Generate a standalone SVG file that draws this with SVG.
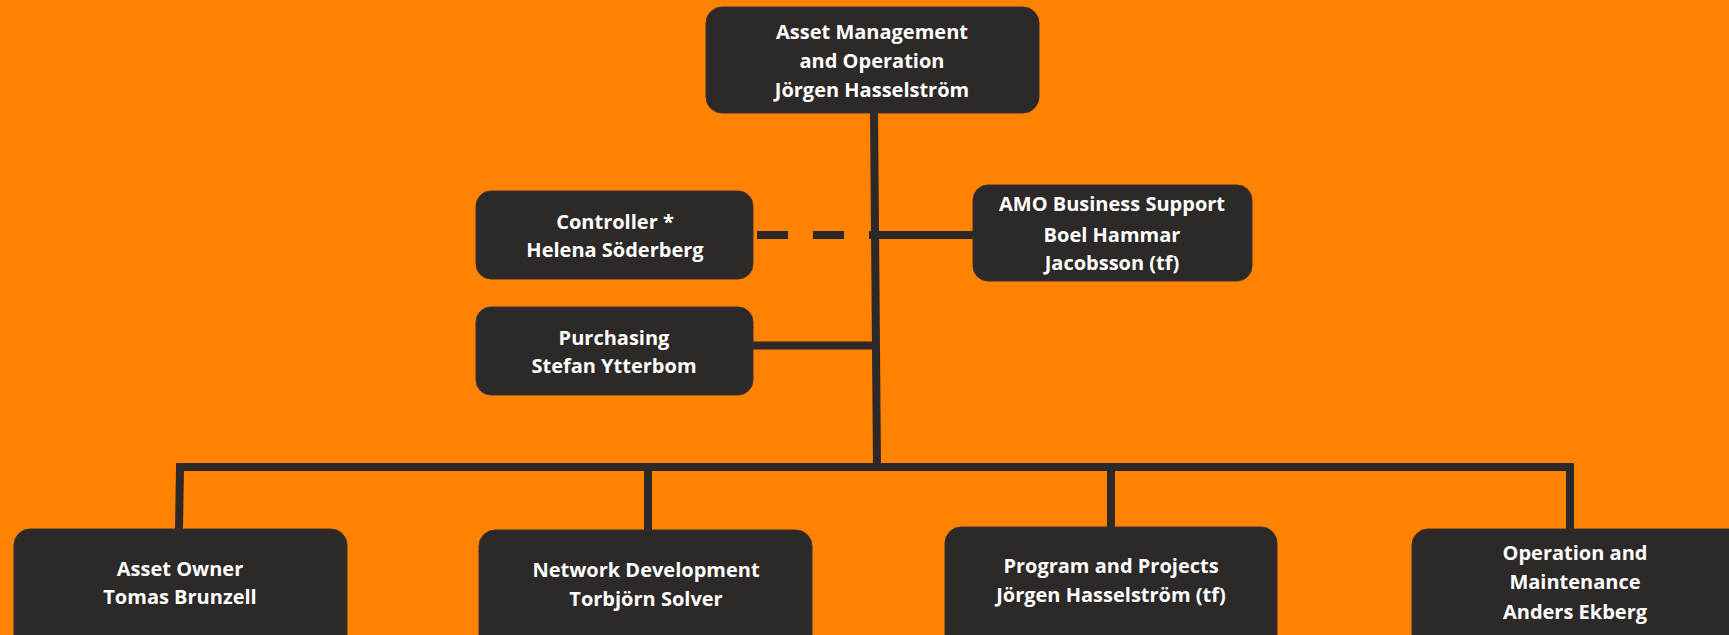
<svg xmlns="http://www.w3.org/2000/svg" width="1729" height="635" viewBox="0 0 1729 635">
<style>
.box{fill:#2c2928;stroke:#3a3433;stroke-width:1}
.t{font-family:"Open Sans",Lato,"Liberation Sans",sans-serif;font-weight:bold;font-size:20px;fill:#ffffff;text-anchor:middle}
.ln{stroke:#2c2928;stroke-width:8;fill:none}
</style>
<rect width="1729" height="635" fill="#ff8200"/>
<g id="connectors">
<path class="ln" d="M874 112 L877 467"/>
<path class="ln" d="M753 345.5 L877 345.5"/>
<path class="ln" d="M757 235 L880 235" stroke-dasharray="31 25"/>
<path class="ln" d="M877 235 L974 235"/>
<path class="ln" d="M179 530 L180 467 L1570 467 L1570 530"/>
<path class="ln" d="M648 467 L648 531"/>
<path class="ln" d="M1111 467 L1111 528"/>
</g>
<g id="amo">
<rect class="box" x="706" y="7" width="333" height="106" rx="16"/>
<text class="t" x="872" y="39">Asset Management</text>
<text class="t" x="872" y="68">and Operation</text>
<text class="t" x="872" y="97">Jörgen Hasselström</text>
</g>
<g id="controller">
<rect class="box" x="476" y="191" width="277" height="88" rx="15"/>
<text class="t" x="615" y="229">Controller *</text>
<text class="t" x="615" y="257">Helena Söderberg</text>
</g>
<g id="business-support">
<rect class="box" x="973" y="185" width="279" height="96" rx="15"/>
<text class="t" x="1112" y="211">AMO Business Support</text>
<text class="t" x="1112" y="242">Boel Hammar</text>
<text class="t" x="1112" y="270">Jacobsson (tf)</text>
</g>
<g id="purchasing">
<rect class="box" x="476" y="307" width="277" height="88" rx="15"/>
<text class="t" x="614" y="345">Purchasing</text>
<text class="t" x="614" y="373">Stefan Ytterbom</text>
</g>
<g id="asset-owner">
<rect class="box" x="14" y="529" width="333" height="130" rx="16"/>
<text class="t" x="180" y="576">Asset Owner</text>
<text class="t" x="180" y="604">Tomas Brunzell</text>
</g>
<g id="network-development">
<rect class="box" x="479" y="530" width="333" height="130" rx="16"/>
<text class="t" x="646" y="577">Network Development</text>
<text class="t" x="646" y="606">Torbjörn Solver</text>
</g>
<g id="program-projects">
<rect class="box" x="945" y="527" width="332" height="130" rx="16"/>
<text class="t" x="1111" y="573">Program and Projects</text>
<text class="t" x="1111" y="602">Jörgen Hasselström (tf)</text>
</g>
<g id="operation-maintenance">
<rect class="box" x="1412" y="529" width="333" height="130" rx="16"/>
<text class="t" x="1575" y="560">Operation and</text>
<text class="t" x="1575" y="589">Maintenance</text>
<text class="t" x="1575" y="619">Anders Ekberg</text>
</g>
</svg>
